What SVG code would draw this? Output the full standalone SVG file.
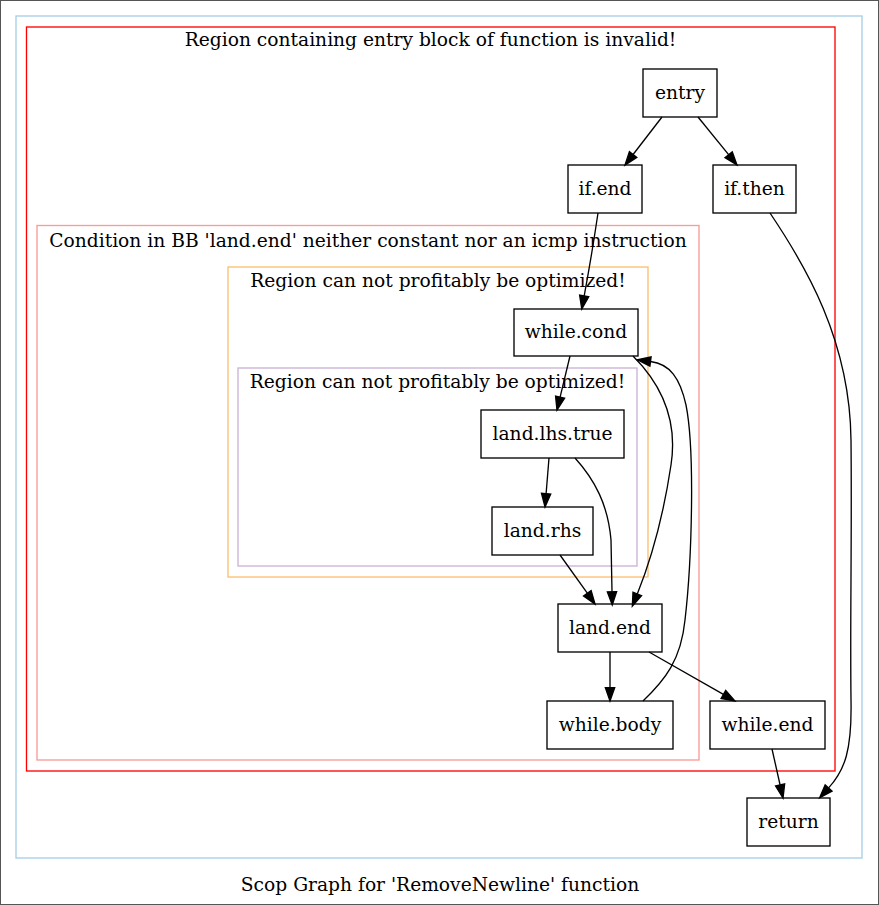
<svg xmlns="http://www.w3.org/2000/svg" width="879" height="905" viewBox="0 0 879 905">
<defs>
<marker id="ah" markerUnits="userSpaceOnUse" markerWidth="14" markerHeight="10" refX="0" refY="4.67" orient="auto" overflow="visible">
<path d="M0,0 L13.3,4.67 L0,9.33 Z" fill="#000" stroke="#000" stroke-width="1.33"/>
</marker>
</defs>
<style>
text{font-family:"DejaVu Serif","Liberation Serif",serif;font-size:18.67px;fill:#000;text-anchor:middle}
.cl{fill:none;stroke-width:1.33}
.node rect{fill:#fff;stroke:#000;stroke-width:1.33}
.edges path{fill:none;stroke:#000;stroke-width:1.33;marker-end:url(#ah)}
</style>
<rect x="0" y="0" width="879" height="905" fill="#fff"/>
<rect x="0.5" y="0.5" width="878" height="904" fill="none" stroke="#555" stroke-width="1"/>
<g id="clusters">
<rect class="cl" x="16" y="16" width="846" height="842" stroke="#a6cee3"/>
<rect class="cl" x="26.5" y="27" width="808.5" height="744" stroke="#ff0000"/>
<text x="430.5" y="46">Region containing entry block of function is invalid!</text>
<rect class="cl" x="37" y="225.5" width="662" height="534.5" stroke="#fb9a99"/>
<text x="368" y="247">Condition in BB 'land.end' neither constant nor an icmp instruction</text>
<rect class="cl" x="228" y="267" width="420" height="310" stroke="#fdbf6f"/>
<text x="438" y="287">Region can not profitably be optimized!</text>
<rect class="cl" x="238" y="368" width="399" height="198" stroke="#cab2d6"/>
<text x="437.5" y="388">Region can not profitably be optimized!</text>
</g>
<g id="node-entry" class="node"><rect x="643" y="69" width="74" height="48"/><text x="680" y="99">entry</text></g>
<g id="node-if.end" class="node"><rect x="568" y="165" width="74" height="48"/><text x="605" y="195">if.end</text></g>
<g id="node-if.then" class="node"><rect x="713" y="165" width="83" height="48"/><text x="754.5" y="195">if.then</text></g>
<g id="node-while.cond" class="node"><rect x="514" y="309" width="124" height="47"/><text x="576" y="338">while.cond</text></g>
<g id="node-land.lhs.true" class="node"><rect x="481" y="410" width="143" height="48"/><text x="552.5" y="440">land.lhs.true</text></g>
<g id="node-land.rhs" class="node"><rect x="492" y="507" width="101" height="48"/><text x="542.5" y="537">land.rhs</text></g>
<g id="node-land.end" class="node"><rect x="558" y="604" width="104" height="48"/><text x="610" y="634">land.end</text></g>
<g id="node-while.body" class="node"><rect x="547" y="701" width="126" height="48"/><text x="610" y="731">while.body</text></g>
<g id="node-while.end" class="node"><rect x="710" y="701" width="115" height="48"/><text x="767.5" y="731">while.end</text></g>
<g id="node-return" class="node"><rect x="747" y="798" width="83" height="48"/><text x="788.5" y="828">return</text></g>
<g id="connectors" class="edges">
<path d="M662,117 L633.1,154.5"/>
<path d="M698,117 L728.6,154.7"/>
<path d="M598,213 C594,240 589,270 584.2,295.9"/>
<path d="M570,356 L560.1,397.1"/>
<path d="M549,458 L546.1,493.7"/>
<path d="M575,458 C595,480 608,505 611,540 L612,591.7"/>
<path d="M560,555 L587.3,593.2"/>
<path d="M633,356 C662,385 678,420 671,465 C665,505 655,550 637.3,593.9"/>
<path d="M610,652 L610,687.7"/>
<path d="M649,652 L723.4,694.4"/>
<path d="M772,749 L780.1,785"/>
<path d="M770,213 C805,265 850,340 851,440 C852,540 850,620 851,700 C852,750 845,770 828.6,787.9"/>
<path d="M643,701 C665,680 681,660 685,620 C692,560 695,450 686,405 C680,378 670,364 650.5,361.5"/>
</g>
<text x="440" y="891">Scop Graph for 'RemoveNewline' function</text>
</svg>
